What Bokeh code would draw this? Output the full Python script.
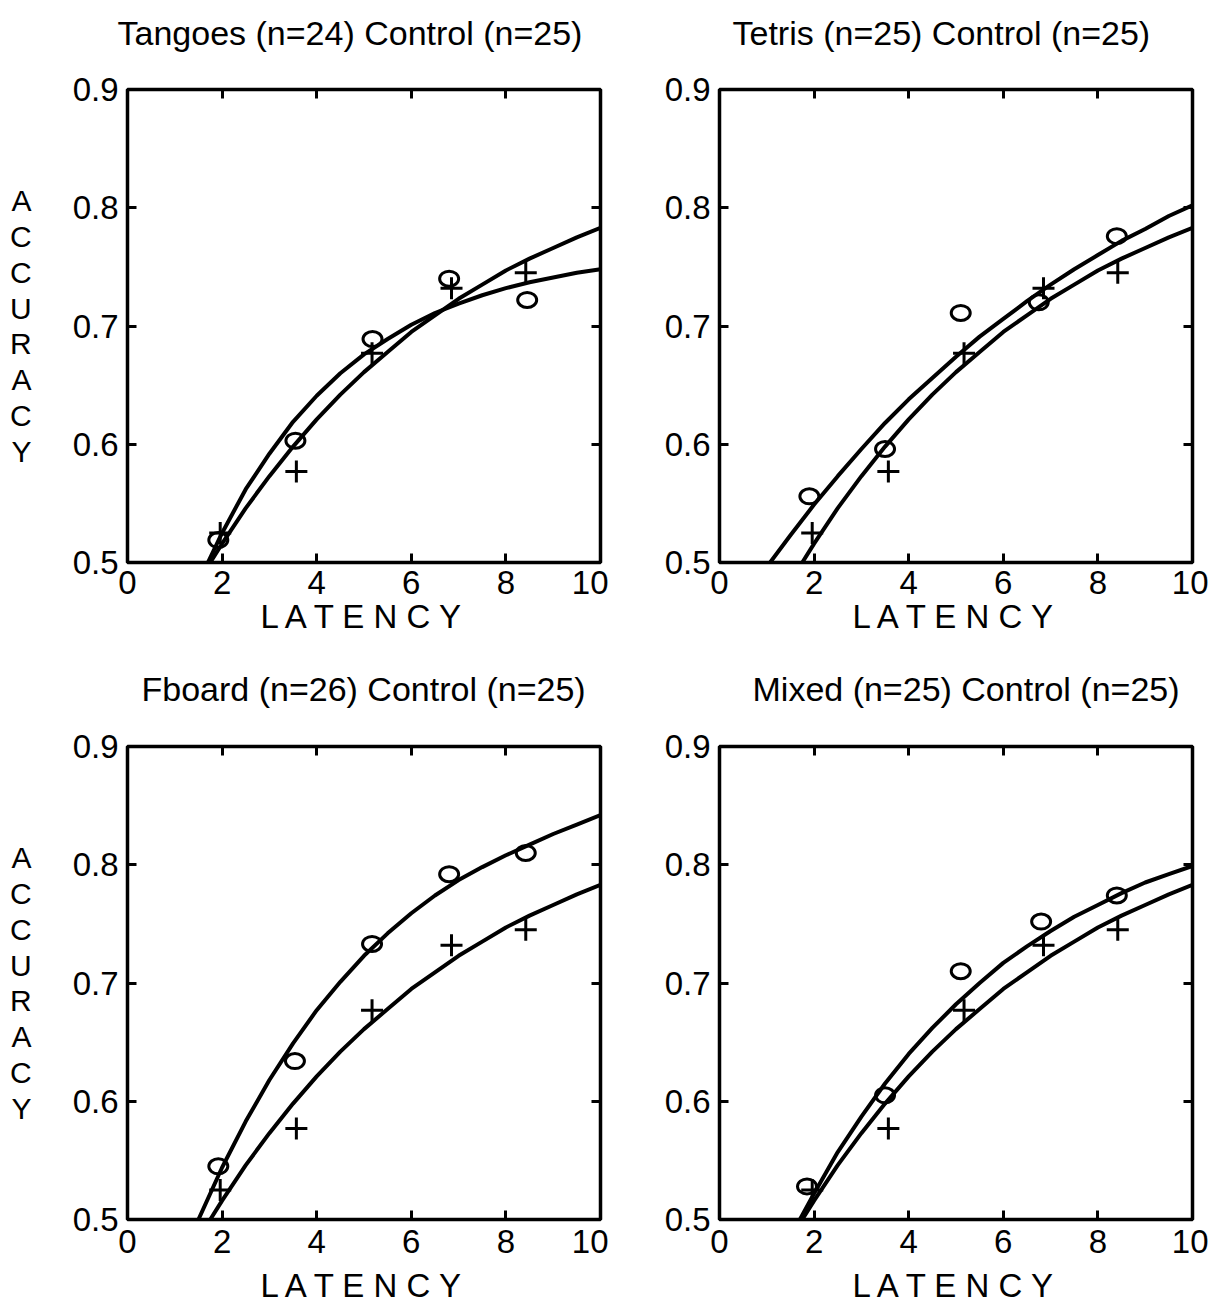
from bokeh.plotting import figure
from bokeh.models import Range1d, LinearAxis, FixedTicker
from bokeh.layouts import column, row
from bokeh.embed import file_html
from bokeh.resources import INLINE

# ---------------- data ----------------
titles = ["Tangoes (n=24) Control (n=25)", "Tetris (n=25) Control (n=25)",
          "Fboard (n=26) Control (n=25)", "Mixed (n=25) Control (n=25)"]

x_ticks = [0, 2, 4, 6, 8, 10]
y_ticks = [0.5, 0.6, 0.7, 0.8, 0.9]
y_tick_labels = ["0.5", "0.6", "0.7", "0.8", "0.9"]

# control group (plus markers), identical in every panel
control_x = [1.96, 3.57, 5.17, 6.85, 8.42]
control_y = [0.525, 0.577, 0.677, 0.732, 0.745]
control_curve_x = [1.75, 2.0, 2.5, 3.0, 3.5, 4.0, 4.5, 5.0, 5.5, 6.0, 6.5, 7.0, 7.5, 8.0, 8.5, 9.0, 9.5, 10.0]
control_curve_y = [0.500, 0.516, 0.546, 0.573, 0.598, 0.621, 0.642, 0.661, 0.678, 0.695, 0.709, 0.723, 0.735, 0.747, 0.757, 0.766, 0.775, 0.783]

# training groups (circle markers)
tangoes_x = [1.92, 3.55, 5.18, 6.80, 8.45]
tangoes_y = [0.519, 0.603, 0.689, 0.740, 0.722]
tangoes_curve_x = [1.7, 2.0, 2.5, 3.0, 3.5, 4.0, 4.5, 5.0, 5.5, 6.0, 6.5, 7.0, 7.5, 8.0, 8.5, 9.0, 9.5, 10.0]
tangoes_curve_y = [0.500, 0.525, 0.562, 0.592, 0.619, 0.641, 0.660, 0.676, 0.689, 0.701, 0.711, 0.719, 0.726, 0.732, 0.737, 0.741, 0.745, 0.748]

tetris_x = [1.90, 3.50, 5.10, 6.75, 8.40]
tetris_y = [0.556, 0.596, 0.711, 0.720, 0.776]
tetris_curve_x = [1.07, 1.5, 2.0, 2.5, 3.0, 3.5, 4.0, 4.5, 5.0, 5.5, 6.0, 6.5, 7.0, 7.5, 8.0, 8.5, 9.0, 9.5, 10.0]
tetris_curve_y = [0.500, 0.523, 0.549, 0.573, 0.596, 0.618, 0.638, 0.656, 0.674, 0.691, 0.706, 0.721, 0.735, 0.748, 0.760, 0.772, 0.782, 0.793, 0.802]

fboard_x = [1.92, 3.54, 5.17, 6.80, 8.42]
fboard_y = [0.545, 0.634, 0.733, 0.792, 0.810]
fboard_curve_x = [1.5, 2.0, 2.5, 3.0, 3.5, 4.0, 4.5, 5.0, 5.5, 6.0, 6.5, 7.0, 7.5, 8.0, 8.5, 9.0, 9.5, 10.0]
fboard_curve_y = [0.500, 0.544, 0.583, 0.618, 0.649, 0.677, 0.701, 0.723, 0.742, 0.759, 0.774, 0.787, 0.798, 0.808, 0.817, 0.826, 0.834, 0.842]

mixed_x = [1.85, 3.50, 5.10, 6.80, 8.40]
mixed_y = [0.528, 0.605, 0.710, 0.752, 0.774]
mixed_curve_x = [1.7, 2.0, 2.5, 3.0, 3.5, 4.0, 4.5, 5.0, 5.5, 6.0, 6.5, 7.0, 7.5, 8.0, 8.5, 9.0, 9.5, 10.0]
mixed_curve_y = [0.500, 0.522, 0.557, 0.587, 0.615, 0.640, 0.662, 0.682, 0.700, 0.717, 0.731, 0.744, 0.756, 0.766, 0.776, 0.785, 0.792, 0.799]

groups = [
    (tangoes_x, tangoes_y, tangoes_curve_x, tangoes_curve_y),
    (tetris_x, tetris_y, tetris_curve_x, tetris_curve_y),
    (fboard_x, fboard_y, fboard_curve_x, fboard_curve_y),
    (mixed_x, mixed_y, mixed_curve_x, mixed_curve_y),
]

FONT = "Liberation Sans"


def style_axis(ax, labels=True, standoff=6):
    ax.axis_line_color = None
    ax.major_tick_in = 9
    ax.major_tick_out = 0
    ax.minor_tick_in = 0
    ax.minor_tick_out = 0
    ax.major_tick_line_width = 3
    ax.major_tick_line_color = "black"
    ax.major_label_text_font = FONT
    if labels:
        ax.major_label_text_color = "black"
        ax.major_label_text_font_size = "33px"
    else:
        ax.major_label_text_color = None
        ax.major_label_text_font_size = "1px"
    ax.major_label_standoff = standoff


def make_panel(i, left_border, right_border, top_border, bottom_border, ylabel,
               title_offset, title_standoff, xtick_standoff, xlabel_standoff):
    gx, gy, cx, cy = groups[i]
    p = figure(frame_width=473, frame_height=473,
               x_range=Range1d(0, 10), y_range=Range1d(0.5, 0.9),
               output_backend="svg", toolbar_location=None,
               min_border_left=left_border, min_border_right=right_border,
               min_border_top=top_border, min_border_bottom=bottom_border,
               background_fill_color="white", border_fill_color="white")
    p.grid.visible = False
    p.outline_line_color = "black"
    p.outline_line_width = 3.5

    # trailing newline keeps an empty second line below the title,
    # which lifts the title away from the frame
    p.title.text = titles[i] + "\n"
    p.title.text_font = FONT
    p.title.text_font_size = "34px"
    p.title.text_font_style = "normal"
    p.title.text_color = "black"
    p.title.text_line_height = 1.0
    p.title.align = "left"
    p.title.offset = title_offset
    p.title.standoff = title_standoff

    xa = p.xaxis[0]
    xa.ticker = FixedTicker(ticks=x_ticks)
    style_axis(xa, standoff=xtick_standoff)
    xa.axis_label = "L A T E N C Y"
    xa.axis_label_text_font = FONT
    xa.axis_label_text_font_size = "33px"
    xa.axis_label_text_font_style = "normal"
    xa.axis_label_text_color = "black"
    xa.axis_label_standoff = xlabel_standoff

    ya = p.yaxis[0]
    ya.ticker = FixedTicker(ticks=y_ticks)
    ya.major_label_overrides = {t: s for t, s in zip(y_ticks, y_tick_labels)}
    style_axis(ya, standoff=9)
    if ylabel:
        ya.axis_label = "A\nC\nC\nU\nR\nA\nC\nY"
        ya.axis_label_orientation = "horizontal"
        ya.axis_label_text_font = FONT
        ya.axis_label_text_font_size = "30px"
        ya.axis_label_text_font_style = "normal"
        ya.axis_label_text_color = "black"
        ya.axis_label_text_line_height = 1.09
        ya.axis_label_standoff = 38

    top = LinearAxis(ticker=FixedTicker(ticks=x_ticks))
    style_axis(top, labels=False, standoff=0)
    p.add_layout(top, "above")
    right = LinearAxis(ticker=FixedTicker(ticks=y_ticks))
    style_axis(right, labels=False, standoff=0)
    p.add_layout(right, "right")

    # fitted curves
    p.line(control_curve_x, control_curve_y, line_color="black", line_width=4)
    p.line(cx, cy, line_color="black", line_width=4)
    # observed points
    p.scatter(control_x, control_y, marker="cross", size=22,
              line_color="black", line_width=3)
    p.ellipse(gx, gy, width=19, height=15, width_units="screen", height_units="screen",
              fill_color=None, line_color="black", line_width=3)
    return p


p1 = make_panel(0, 127, 8, 89, 86, True, -10, 0, 8, 1)
p2 = make_panel(1, 111, 16, 89, 86, False, 13, 0, 8, 1)
p3 = make_panel(2, 127, 8, 98, 87, True, 14, 2, 10, 11)
p4 = make_panel(3, 111, 16, 98, 87, False, 33, 2, 10, 11)

layout = column(row(p1, p2), row(p3, p4))

with open("out.html", "w") as f:
    f.write(file_html(layout, INLINE))
